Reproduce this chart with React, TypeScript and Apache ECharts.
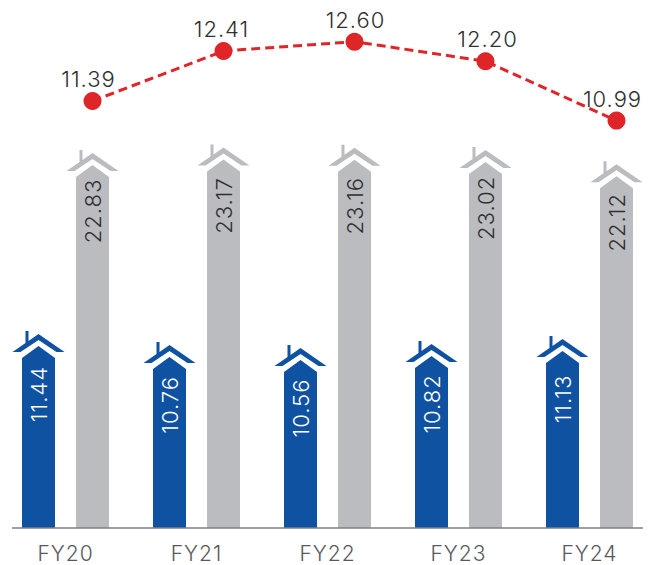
import React, { useEffect, useRef } from "react";
import * as echarts from "echarts";

const categories = ["FY20", "FY21", "FY22", "FY23", "FY24"];
const blueValues = [11.44, 10.76, 10.56, 10.82, 11.13];
const grayValues = [22.83, 23.17, 23.16, 23.02, 22.12];
const lineValues = [11.39, 12.41, 12.6, 12.2, 10.99];

const BLUE = "#0f52a2";
const GRAY = "#bbbcc0";
const RED = "#de2528";
const INK = "#2f2f31";
const FONT = "Inter";
const LABEL_NUDGE = [-4, -2, 1, 2, -4];

function houseSeries(values: number[], color: string, textColor: string, dx: number, name: string, textDy: number) {
  return {
    type: "custom",
    name,
    xAxisIndex: 0,
    yAxisIndex: 0,
    data: values.map((v, i) => [i, v]),
    clip: false,
    renderItem: (_p: any, api: any) => {
      const idx = api.value(0);
      const val = api.value(1);
      const [bx, a] = api.coord([idx, val]);
      const [, base] = api.coord([idx, 0]);
      const cx = bx + dx;
      return {
        type: "group",
        children: [
          {
            type: "polygon",
            shape: {
              points: [
                [cx - 16.5, base],
                [cx - 16.5, a + 12],
                [cx, a],
                [cx + 16.5, a + 12],
                [cx + 16.5, base],
              ],
            },
            style: { fill: color },
          },
          {
            type: "polygon",
            shape: {
              points: [
                [cx - 26, a + 6],
                [cx - 13, a - 3],
                [cx - 13, a - 15],
                [cx - 10, a - 15],
                [cx - 10, a - 5],
                [cx, a - 12],
                [cx + 26, a + 6],
                [cx + 18, a + 6],
                [cx, a - 6],
                [cx - 18, a + 6],
              ],
            },
            style: { fill: color },
          },
          {
            type: "text",
            x: cx,
            y: a + textDy,
            rotation: Math.PI / 2,
            style: {
              text: val.toFixed(2),
              fill: textColor,
              font: `300 22px ${FONT}`,
              align: "center",
              verticalAlign: "middle",
            },
          },
        ],
      };
    },
  };
}

export default function App() {
  const ref = useRef<HTMLDivElement>(null);
  useEffect(() => {
    document.body.style.margin = "0";
    const chart = echarts.init(ref.current!, null, { renderer: "svg" });
    chart.setOption({
      animation: false,
      backgroundColor: "#ffffff",
      grid: [
        { left: 0, top: 0, width: 655, height: 528, outerBoundsMode: "none" },
        { left: 27, top: 0, width: 655, height: 528, outerBoundsMode: "none" },
      ],
      xAxis: [
        {
          type: "category",
          gridIndex: 0,
          data: categories,
          axisLine: { show: false },
          axisTick: { show: false },
          axisLabel: { color: "#58595b", fontSize: 21, fontFamily: FONT, fontWeight: 300, margin: 15 },
        },
        { type: "category", gridIndex: 1, data: categories, show: false },
      ],
      yAxis: [
        { type: "value", gridIndex: 0, min: 0, max: 33.2, show: false },
        { type: "value", gridIndex: 1, min: 2.68, max: 13.45, show: false },
      ],
      graphic: [
        {
          type: "line",
          shape: { x1: 12, y1: 528, x2: 643, y2: 528 },
          style: { stroke: "#808184", lineWidth: 1.5 },
          z: 10,
        },
      ],
      series: [
        houseSeries(blueValues, BLUE, "#ffffff", -27, "Blue", 48),
        houseSeries(grayValues, GRAY, INK, 27, "Gray", 46),
        {
          type: "line",
          xAxisIndex: 1,
          yAxisIndex: 1,
          data: lineValues.map((value, i) => ({
            value,
            label: { offset: [LABEL_NUDGE[i], 0] },
          })),
          symbol: "circle",
          symbolSize: 18,
          itemStyle: { color: RED },
          lineStyle: { color: RED, width: 3, type: [9, 5] },
          label: {
            show: true,
            position: "top",
            distance: 2,
            color: INK,
            fontSize: 22,
            fontWeight: 300,
            fontFamily: FONT,
            formatter: (p: any) => p.value.toFixed(2),
          },
        },
      ],
    });
    return () => chart.dispose();
  }, []);
  return (
    <>
      <style>{"svg text { letter-spacing: 1px; }"}</style>
      <div ref={ref} style={{ width: 652, height: 565 }} />
    </>
  );
}
